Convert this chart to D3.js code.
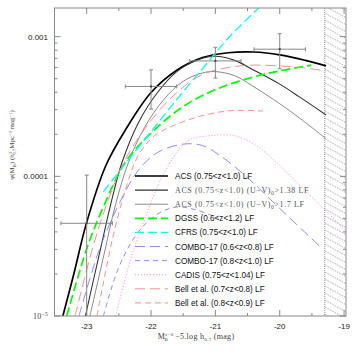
<!DOCTYPE html>
<html lang="en">
<head>
<meta charset="UTF-8">
<title>LF comparison</title>
<script src="https://d3js.org/d3.v7.min.js"></script>
<style>
	body { margin: 0; background: #fff; }
	svg { display: block; }
	.tick-label { font-family: "Liberation Sans", Arial, sans-serif; font-size: 8px; fill: #222; }
	.leg { font-family: "Liberation Sans", Arial, sans-serif; font-size: 8.2px; fill: #111; }
	.leg-serif { font-family: "Liberation Serif", "Times New Roman", serif; font-size: 8px; fill: #555; letter-spacing: 0.6px; }
	.ax-title { font-family: "Liberation Serif", "Times New Roman", serif; font-size: 8px; fill: #444; letter-spacing: 0.3px; }
	.y-title { font-family: "Liberation Serif", "Times New Roman", serif; font-size: 7px; fill: #444; }
</style>
</head>
<body>
<svg id="chart" width="354" height="354"></svg>
<script>
// luminosity functions, M_B and phi
var acsM   = [-23.37, -23.2, -23.0, -22.7, -22.4, -22.0, -21.6, -21.2, -20.8, -20.4, -20.0, -19.6, -19.28];
var acsPhi = [1.0e-5, 2.0e-5, 4.68e-5, 1.20e-4, 2.14e-4, 3.98e-4, 5.75e-4, 7.08e-4, 7.67e-4, 7.76e-4, 7.41e-4, 6.76e-4, 6.17e-4];

var acs138M   = [-23.02, -22.8, -22.6, -22.45, -22.2, -21.9, -21.6, -21.3, -21.0, -20.7, -20.4, -20.0, -19.7, -19.28];
var acs138Phi = [1.0e-5, 2.82e-5, 7.08e-5, 1.26e-4, 2.40e-4, 3.98e-4, 5.62e-4, 6.76e-4, 7.24e-4, 6.76e-4, 5.75e-4, 4.57e-4, 3.72e-4, 2.75e-4];

var acs17M   = [-22.95, -22.75, -22.55, -22.35, -22.1, -21.8, -21.5, -21.2, -21.0, -20.7, -20.4, -20.0, -19.7, -19.28];
var acs17Phi = [1.0e-5, 2.51e-5, 6.31e-5, 1.26e-4, 2.24e-4, 3.55e-4, 4.79e-4, 5.50e-4, 5.62e-4, 5.25e-4, 4.37e-4, 3.31e-4, 2.63e-4, 1.86e-4];

var dgssM   = [-23.31, -23.0, -22.76, -22.4, -22.0, -21.5, -21.0, -20.5, -20.0, -19.51];
var dgssPhi = [1.0e-5, 3.02e-5, 5.75e-5, 1.26e-4, 2.04e-4, 3.16e-4, 4.17e-4, 5.01e-4, 5.69e-4, 6.25e-4];

var cfrsM   = [-22.74, -22.4, -22.0, -21.6, -21.2, -20.8, -20.3];
var cfrsPhi = [7.76e-5, 1.23e-4, 2.09e-4, 3.55e-4, 5.89e-4, 9.77e-4, 1.65e-3];

var combo1M   = [-23.12, -22.8, -22.5, -22.2, -21.9, -21.5, -21.2, -20.9, -20.5, -20.0, -19.38];
var combo1Phi = [1.0e-5, 3.02e-5, 6.31e-5, 1.10e-4, 1.48e-4, 1.70e-4, 1.66e-4, 1.38e-4, 9.77e-5, 5.89e-5, 3.16e-5];

var combo2M   = [-22.74, -22.5, -22.2, -21.9, -21.6, -21.3, -20.95];
var combo2Phi = [1.0e-5, 2.24e-5, 3.98e-5, 5.37e-5, 6.03e-5, 5.75e-5, 5.01e-5];

var cadisM   = [-22.55, -22.32, -22.06, -21.8, -21.44, -21.1, -20.7, -20.4, -20.1, -19.7, -19.3, -18.97];
var cadisPhi = [1.0e-5, 2.51e-5, 5.50e-5, 1.05e-4, 1.78e-4, 1.95e-4, 1.95e-4, 1.70e-4, 1.32e-4, 8.71e-5, 5.75e-5, 4.07e-5];

var bell1M   = [-23.18, -22.9, -22.65, -22.4, -22.0, -21.6, -21.24, -20.9, -20.5, -20.0, -19.6, -19.28];
var bell1Phi = [1.0e-5, 3.16e-5, 7.08e-5, 1.32e-4, 2.51e-4, 3.98e-4, 5.25e-4, 5.89e-4, 6.24e-4, 6.17e-4, 5.96e-4, 5.66e-4];

var bell2M   = [-22.84, -22.6, -22.4, -22.2, -21.95, -21.67, -21.24, -20.77, -20.26];
var bell2Phi = [1.0e-5, 3.55e-5, 7.94e-5, 1.41e-4, 1.95e-4, 2.29e-4, 2.69e-4, 2.95e-4, 2.93e-4];

// binned ACS points with error bars
var ptM      = [-23.0, -22.0, -21.0, -20.0];
var ptPhi    = [4.61e-5, 4.40e-4, 6.70e-4, 8.13e-4];
var ptPhiHi  = [1.02e-4, 5.78e-4, 8.39e-4, 1.05e-3];
var ptPhiLo  = [1.0e-6, 3.03e-4, 5.05e-4, 5.89e-4];
var ptMErr   = [0.4, 0.4, 0.4, 0.4];

var legendLabels = [
	"ACS (0.75<z<1.0) LF",
	"ACS (0.75<z<1.0)  (U\u2212V)|0|>1.38  LF",
	"ACS (0.75<z<1.0)  (U\u2212V)|0|>1.7  LF",
	"DGSS (0.6<z<1.2) LF",
	"CFRS (0.75<z<1.0) LF",
	"COMBO-17 (0.6<z<0.8) LF",
	"COMBO-17 (0.8<z<1.0) LF",
	"CADIS (0.75<z<1.04) LF",
	"Bell et al. (0.7<z<0.8) LF",
	"Bell et al. (0.8<z<0.9) LF"
];

var xTickVals = [-23, -22, -21, -20, -19];
var limitM = -19.3;

var series = [
	{M: acsM,    phi: acsPhi,    color: "#000",    width: 1.7, dash: null,   serif: false},
	{M: acs138M, phi: acs138Phi, color: "#333",    width: 1.1, dash: null,   serif: true},
	{M: acs17M,  phi: acs17Phi,  color: "#8a8a8a", width: 1,   dash: null,   serif: true},
	{M: dgssM,   phi: dgssPhi,   color: "#00ff00", width: 1.7, dash: "9,4",  serif: false},
	{M: cfrsM,   phi: cfrsPhi,   color: "#00ffff", width: 1.3, dash: "9,4",  serif: false},
	{M: combo1M, phi: combo1Phi, color: "#7f7fff", width: 0.9, dash: "10,5", serif: false},
	{M: combo2M, phi: combo2Phi, color: "#7f7fff", width: 0.9, dash: "5,4",  serif: false},
	{M: cadisM,  phi: cadisPhi,  color: "#ff80ff", width: 1,   dash: "1,2",  serif: false},
	{M: bell1M,  phi: bell1Phi,  color: "#ff8080", width: 0.9, dash: "10,5", serif: false},
	{M: bell2M,  phi: bell2Phi,  color: "#ff8080", width: 0.9, dash: "6,4",  serif: false}
];

var pLeft = 54.5, pRight = 346, pTop = 8, pBottom = 316;
var svg = d3.select("#chart");

var x = d3.scaleLinear().domain([-23.5, -18.97]).range([pLeft, pRight]);
var y = d3.scaleLog().domain([1e-5, Math.pow(10, -2.795)]).range([pBottom, pTop]);

var defs = svg.append("defs");
defs.append("clipPath").attr("id", "plotclip")
	.append("rect").attr("x", pLeft).attr("y", pTop).attr("width", pRight - pLeft).attr("height", pBottom - pTop);
defs.append("clipPath").attr("id", "hatchclip")
	.append("rect").attr("x", x(limitM)).attr("y", pTop).attr("width", pRight - x(limitM)).attr("height", pBottom - pTop);

// hatched region beyond the completeness limit
var hatch = svg.append("g").attr("clip-path", "url(#hatchclip)");
for (var k = -30; k < 330; k += 7) {
	hatch.append("line")
		.attr("x1", x(limitM)).attr("y1", pTop + k)
		.attr("x2", pRight).attr("y2", pTop + k + (pRight - x(limitM)) * 0.55)
		.attr("stroke", "#888").attr("stroke-width", 0.8).attr("stroke-dasharray", "1,1");
}
svg.append("line")
	.attr("x1", x(limitM)).attr("x2", x(limitM)).attr("y1", pTop).attr("y2", pBottom)
	.attr("stroke", "#888").attr("stroke-width", 0.9).attr("stroke-dasharray", "1,1");

var plot = svg.append("g").attr("clip-path", "url(#plotclip)");

var line = d3.line()
	.x(function(d){ return x(d[0]); })
	.y(function(d){ return y(d[1]); })
	.curve(d3.curveCatmullRom.alpha(0.5));

series.forEach(function(s){
	var pts = s.M.map(function(m, i){ return [m, s.phi[i]]; });
	plot.append("path")
		.attr("d", line(pts))
		.attr("fill", "none")
		.attr("stroke", s.color)
		.attr("stroke-width", s.width)
		.attr("stroke-dasharray", s.dash);
});

// error bars
ptM.forEach(function(m, i){
	var g = plot.append("g").attr("stroke", "#888").attr("stroke-width", 1);
	g.append("line").attr("x1", x(m - ptMErr[i])).attr("x2", x(m + ptMErr[i]))
		.attr("y1", y(ptPhi[i])).attr("y2", y(ptPhi[i]));
	g.append("line").attr("x1", x(m)).attr("x2", x(m))
		.attr("y1", y(Math.max(ptPhiLo[i], 1e-6))).attr("y2", y(ptPhiHi[i]));
	[ptPhiHi[i], ptPhiLo[i]].forEach(function(v){
		g.append("line").attr("x1", x(m) - 2).attr("x2", x(m) + 2).attr("y1", y(v)).attr("y2", y(v));
	});
	[m - ptMErr[i], m + ptMErr[i]].forEach(function(v){
		g.append("line").attr("x1", x(v)).attr("x2", x(v)).attr("y1", y(ptPhi[i]) - 2).attr("y2", y(ptPhi[i]) + 2);
	});
	plot.append("rect").attr("x", x(m) - 1).attr("y", y(ptPhi[i]) - 1).attr("width", 2).attr("height", 2).attr("fill", "#444");
});

// frame and ticks
var axc = "#888";
svg.append("rect").attr("x", pLeft).attr("y", pTop).attr("width", pRight - pLeft).attr("height", pBottom - pTop)
	.attr("fill", "none").attr("stroke", axc).attr("stroke-width", 1);

var ax = svg.append("g").attr("stroke", axc).attr("stroke-width", 1);
d3.range(-23.5, -18.9, 0.5).forEach(function(v){
	var major = Math.abs(v - Math.round(v)) < 1e-6;
	var len = major ? 6 : 3;
	ax.append("line").attr("x1", x(v)).attr("x2", x(v)).attr("y1", pBottom).attr("y2", pBottom - len);
	ax.append("line").attr("x1", x(v)).attr("x2", x(v)).attr("y1", pTop).attr("y2", pTop + len);
});
y.ticks().forEach(function(v){
	var lg = Math.log10(v);
	var major = Math.abs(lg - Math.round(lg)) < 1e-6;
	var len = major ? 6 : 3;
	ax.append("line").attr("x1", pLeft).attr("x2", pLeft + len).attr("y1", y(v)).attr("y2", y(v));
	ax.append("line").attr("x1", pRight).attr("x2", pRight - len).attr("y1", y(v)).attr("y2", y(v));
});

xTickVals.forEach(function(v){
	svg.append("text").attr("class", "tick-label")
		.attr("x", x(v)).attr("y", 329).attr("text-anchor", "middle").text(v);
});
svg.append("text").attr("class", "tick-label").attr("x", 48).attr("y", y(1e-3) + 3)
	.attr("text-anchor", "end").text("0.001");
svg.append("text").attr("class", "tick-label").attr("x", 48).attr("y", y(1e-4) + 3)
	.attr("text-anchor", "end").text("0.0001");
var t5 = svg.append("text").attr("class", "ax-title").attr("x", 48).attr("y", y(1e-5) + 3)
	.attr("text-anchor", "end");
t5.append("tspan").text("10");
t5.append("tspan").attr("dy", -3).attr("font-size", 5.5).text("\u22125");

// axis titles
var xt = svg.append("text").attr("class", "ax-title").attr("x", 196).attr("y", 339).attr("text-anchor", "middle");
xt.append("tspan").text("M");
xt.append("tspan").attr("dy", -3).attr("font-size", 5).text("z=0");
xt.append("tspan").attr("dx", -9).attr("dy", 5).attr("font-size", 5).text("B");
xt.append("tspan").attr("dx", 7).attr("dy", -2).text("\u22125.log h");
xt.append("tspan").attr("dy", 2).attr("font-size", 5).text("0.7");
xt.append("tspan").attr("dy", -2).text(" (mag)");

var yt = svg.append("text").attr("class", "y-title")
	.attr("transform", "translate(14,145) rotate(-90)").attr("text-anchor", "middle");
yt.append("tspan").text("\u03c6(M");
yt.append("tspan").attr("dy", 2).attr("font-size", 4.5).text("B");
yt.append("tspan").attr("dy", -2).text(") (h");
yt.append("tspan").attr("dy", -2.5).attr("font-size", 4.5).text("3");
yt.append("tspan").attr("dx", -2.5).attr("dy", 4.5).attr("font-size", 4.5).text("0.7");
yt.append("tspan").attr("dy", -2).text("Mpc");
yt.append("tspan").attr("dy", -2.5).attr("font-size", 4.5).text("\u22123");
yt.append("tspan").attr("dy", 2.5).text(" mag");
yt.append("tspan").attr("dy", -2.5).attr("font-size", 4.5).text("\u22121");
yt.append("tspan").attr("dy", 2.5).text(")");

// legend
var lx1 = 135, lx2 = 168, ltx = 175, ly0 = 176, lstep = 14.1;
series.forEach(function(s, i){
	var yy = ly0 + i * lstep;
	svg.append("line").attr("x1", lx1).attr("x2", lx2).attr("y1", yy).attr("y2", yy)
		.attr("stroke", s.color).attr("stroke-width", s.width).attr("stroke-dasharray", s.dash);
	var t = svg.append("text").attr("class", s.serif ? "leg-serif" : "leg")
		.attr("x", ltx).attr("y", yy + 3);
	var parts = legendLabels[i].split("|");
	parts.forEach(function(p, j){
		var ts = t.append("tspan").text(p);
		if (j === 1) ts.attr("dy", 2).attr("font-size", 5.5);
		if (j === 2) ts.attr("dy", -2);
	});
});
</script>
</body>
</html>
